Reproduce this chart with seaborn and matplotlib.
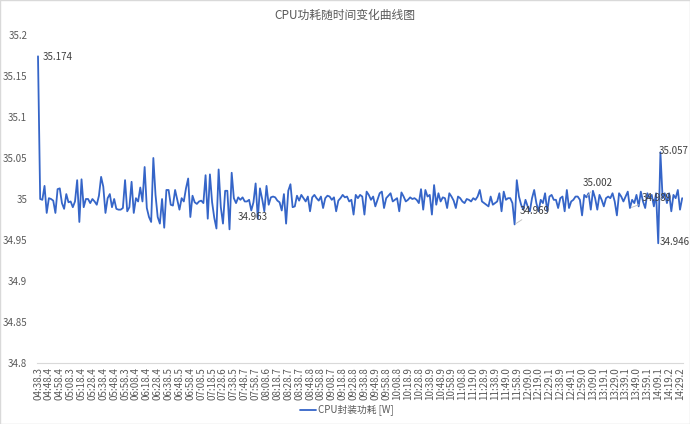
import numpy as np
import pandas as pd
import matplotlib
matplotlib.use("Agg")
import matplotlib.pyplot as plt
from matplotlib.lines import Line2D
from matplotlib.patches import Rectangle
import seaborn as sns

title = "CPU功耗随时间变化曲线图"
series_name = "CPU封装功耗 [W]"

tick_labels = [
    "04:38.3", "04:48.4", "04:58.4", "05:08.3", "05:18.4", "05:28.4", "05:38.4", "05:48.4",
    "05:58.3", "06:08.4", "06:18.4", "06:28.4", "06:38.5", "06:48.5", "06:58.4", "07:08.5",
    "07:18.5", "07:28.6", "07:38.5", "07:48.7", "07:58.7", "08:08.6", "08:18.7", "08:28.7",
    "08:38.7", "08:48.8", "08:58.8", "09:08.7", "09:18.8", "09:28.8", "09:38.8", "09:48.9",
    "09:58.8", "10:08.8", "10:18.9", "10:28.8", "10:38.9", "10:48.9", "10:58.9", "11:08.8",
    "11:19.0", "11:28.9", "11:38.9", "11:49.0", "11:58.9", "12:09.0", "12:19.0", "12:29.1",
    "12:38.9", "12:49.1", "12:59.0", "13:09.0", "13:19.1", "13:29.0", "13:39.1", "13:49.0",
    "13:59.1", "14:09.1", "14:19.2", "14:29.2",
]

seg_a = [35.174, 35.000, 34.999, 35.016, 34.983, 35.001, 35.000, 34.998, 34.983, 35.012,
         35.013, 34.995, 34.988, 35.006, 34.996, 34.997, 34.990, 34.997, 35.023, 34.972,
         35.024, 34.990, 35.000, 35.000, 34.995, 35.000, 34.997, 34.993, 35.004, 35.027,
         35.015, 34.983, 35.001, 35.006, 34.990, 35.000, 34.988, 34.987, 34.987, 34.989,
         35.023, 34.985, 34.990, 35.021, 34.983, 35.001, 34.997, 35.014, 34.997, 35.039,
         34.989, 34.978, 34.972, 35.050, 35.005, 34.978, 34.970, 35.000, 34.965]

seg_b = [35.011, 35.011, 34.993, 34.992, 35.011, 34.999, 34.987, 35.001, 34.997, 35.013,
         35.025, 34.978, 35.004, 34.996, 34.994, 34.997, 34.998, 34.995, 35.029, 34.976,
         35.030, 34.996, 34.977, 34.964, 35.036, 34.990, 34.970, 35.010, 35.010, 34.963,
         35.032, 35.001, 34.995, 35.002, 34.999, 35.002, 34.997, 34.997, 34.999, 34.986,
         34.996, 35.019, 34.976, 35.013, 35.000, 34.985, 35.016, 34.993, 35.002, 35.003,
         35.002, 34.998, 34.996, 34.986, 35.006, 34.970, 35.010, 35.018, 34.990, 34.991,
         35.004, 34.998]

seg_c = [35.005, 35.001, 34.997, 35.003, 34.985, 35.002, 35.005, 35.001, 34.998,
         35.003, 34.989, 35.001, 35.004, 35.003, 34.999, 35.002, 34.985, 34.998, 35.001,
         35.005, 35.002, 35.003, 34.997, 34.999, 34.981, 35.005, 35.001]

seg_d = [35.005, 35.003, 34.981, 35.009, 35.005, 34.999, 35.003, 34.991, 34.999, 35.007,
         35.009, 34.989, 35.001, 35.004, 35.007, 34.997, 34.999, 35.001, 34.985, 35.008,
         35.003, 34.997, 34.999, 35.002, 35.000, 35.001, 34.999, 34.995, 35.012, 34.987,
         35.011, 35.003, 35.005, 34.981, 35.017, 34.993, 35.007, 34.997, 35.002, 35.001,
         34.989, 35.007, 35.003, 34.998, 34.989, 35.003, 35.001, 34.997, 34.995, 35.000]

seg_e = [34.999, 34.997, 35.001, 34.999, 35.003, 35.011, 34.997, 34.995, 34.993, 34.991,
         35.003, 34.993, 34.995, 34.997, 35.007, 34.985, 35.009, 34.999, 35.001, 35.001,
         34.995, 34.969, 35.023, 35.003, 34.993, 34.987, 34.999, 34.991, 34.985, 35.001,
         35.011, 34.995, 34.985, 34.999, 34.995, 35.007, 34.985, 35.003, 35.005, 34.999,
         34.999, 34.989, 35.001, 35.003, 34.985, 35.011, 34.989, 34.997, 34.999, 35.003]

seg_f = [35.003, 34.999, 34.980, 35.005, 35.002, 35.007, 34.987, 35.010, 35.001, 34.987,
         35.005, 34.999, 34.991, 35.001, 35.003, 35.001, 35.007, 34.997, 34.980, 35.007,
         35.003, 34.997, 35.003, 35.009, 34.989, 34.999, 34.995, 35.005, 34.991, 35.009,
         34.997, 34.989, 35.007, 35.001, 35.005, 34.991, 35.007, 34.946, 35.057, 35.001,
         35.007, 34.995, 35.007, 34.985, 35.005, 35.001, 35.011, 34.987, 35.001]

# points that carry data labels, with label offsets (pixels) and leader flag
label_idx = [0, 88, 219, 252, 272, 286, 285]
label_off = [(5, -1), (8, 12), (5, 13), (-4, 14), (12, 10), (-2, 1), (1, 1)]
label_leader = [False, False, True, True, True, False, False]

power = np.array(seg_a + seg_b + seg_c + seg_d + seg_e + seg_f)
df = pd.DataFrame({"idx": np.arange(len(power)), "power": power})

LINE = "#3565C8"
TXT = "#595959"

sns.set_theme(style="white")
plt.rcParams["font.family"] = ["Noto Sans CJK SC", "DejaVu Sans"]

W, H = 690, 424
fig = plt.figure(figsize=(W / 100, H / 100), dpi=100)
ax = fig.add_axes([37 / W, 1 - 363 / H, (683 - 37) / W, (363 - 35) / H])

sns.lineplot(data=df, x="idx", y="power", ax=ax, color=LINE, linewidth=1.3, legend=False)

ppu = (680 - 38) / 295.0
ax.set_xlim(-1 / ppu, (683 - 38) / ppu)
ax.set_ylim(34.8, 35.2)
yt = np.round(np.arange(34.8, 35.2001, 0.05), 2)
ax.set_yticks(yt)
ax.set_yticklabels(["{:g}".format(v) for v in yt], fontsize=7, color=TXT)
ax.set_xticks(np.arange(len(tick_labels)) * 5)
ax.set_xticklabels(tick_labels, rotation=90, fontsize=7, color=TXT)
ax.tick_params(axis="x", length=0, pad=3)
ax.tick_params(axis="y", length=0, pad=7)
ax.set_xlabel("")
ax.set_ylabel("")
for s in ["top", "right", "left"]:
    ax.spines[s].set_visible(False)
ax.spines["bottom"].set_color("#D9D9D9")
ax.spines["bottom"].set_linewidth(0.8)
ax.grid(False)

for i, off, lead in zip(label_idx, label_off, label_leader):
    kw = {}
    if lead:
        kw["arrowprops"] = dict(arrowstyle="-", color="#BFBFBF", lw=0.6, shrinkA=0, shrinkB=1)
    ax.annotate("{:.3f}".format(power[i]), xy=(i, power[i]), xytext=off,
                textcoords="offset pixels", ha="left", va="center",
                fontsize=7, color="#404040", **kw)

fig.text(0.5, 1 - 15 / H, title, ha="center", va="center", fontsize=8.5, color=TXT)

handle = Line2D([], [], color=LINE, linewidth=1.3)
ax.legend([handle], [series_name], loc="center", bbox_to_anchor=(347 / W, 1 - 411 / H),
          bbox_transform=fig.transFigure, frameon=False, fontsize=7,
          handlelength=1.6, handletextpad=0.2, labelcolor=TXT)

fig.patches.append(Rectangle((0, 0), 1, 1, transform=fig.transFigure, fill=False,
                             edgecolor="#D9D9D9", linewidth=1.0))

fig.savefig("out.png", dpi=100)
